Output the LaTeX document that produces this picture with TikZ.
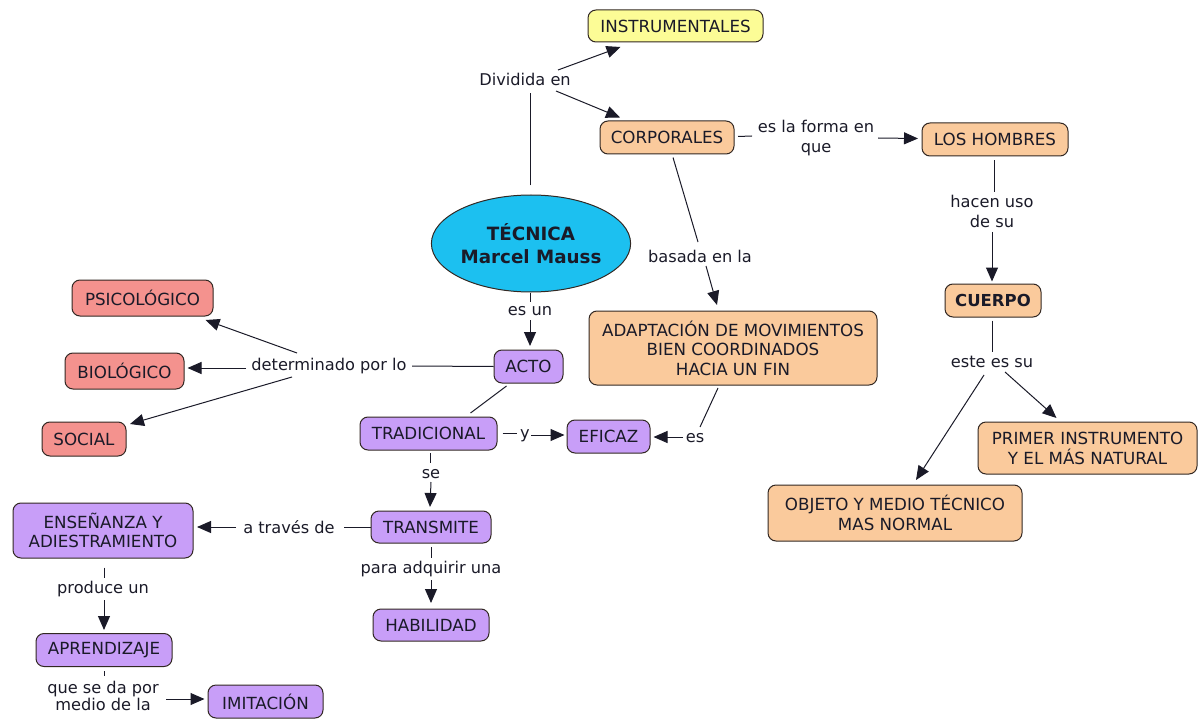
\documentclass[tikz,border=0pt]{standalone}
\usepackage{fontspec}
\setmainfont{DejaVu Sans}
\usetikzlibrary{arrows.meta,shapes.geometric}

\definecolor{cyellow}{RGB}{252,252,150}
\definecolor{cpeach}{RGB}{250,202,156}
\definecolor{cpink}{RGB}{244,146,142}
\definecolor{cpurple}{RGB}{200,158,248}
\definecolor{cblue}{RGB}{28,192,240}
\definecolor{cedge}{RGB}{50,40,35}
\definecolor{ctext}{RGB}{26,26,40}

\tikzset{
  concept/.style={draw=cedge, line width=1pt, rounded corners=8pt, inner sep=0pt,
    align=center, text=ctext, font=\fontsize{16.7}{19.5}\selectfont},
  yel/.style={concept, fill=cyellow},
  pch/.style={concept, fill=cpeach},
  pnk/.style={concept, fill=cpink},
  prp/.style={concept, fill=cpurple},
  linkword/.style={inner sep=0pt, align=center, text=ctext,
    font=\fontsize{16.2}{19.5}\selectfont},
  conn/.style={draw=ctext, line width=1pt},
  arr/.style={conn, -{Triangle[length=14pt,width=12pt]}},
}

\begin{document}
\begin{tikzpicture}[x=1pt,y=-1pt]
\useasboundingbox (0,0) rectangle (1198,719);

% ---------- concepts ----------
\node[ellipse, draw=cedge, line width=1pt, fill=cblue, minimum width=186, minimum height=97,
      inner sep=0pt, align=center, text=ctext, font=\fontsize{18.3}{23}\selectfont\bfseries]
      (tec) at (531,243.5) {TÉCNICA\\Marcel Mauss};

\node[yel, minimum width=175, minimum height=32] (instr) at (675.5,26) {INSTRUMENTALES};
\node[pch, minimum width=134, minimum height=33] (corp) at (667,137.5) {CORPORALES};
\node[pch, minimum width=146, minimum height=33] (hombres) at (995,139.5) {LOS HOMBRES};
\node[pch, minimum width=96, minimum height=33, font=\fontsize{16.5}{19.5}\selectfont\bfseries] (cuerpo) at (993,300.5) {CUERPO};
\node[pch, minimum width=219, minimum height=52, font=\fontsize{16.7}{20}\selectfont] (primer) at (1087.5,448) {PRIMER INSTRUMENTO\\Y EL MÁS NATURAL};
\node[pch, minimum width=254, minimum height=56, font=\fontsize{16.7}{20}\selectfont] (objeto) at (895,513) {OBJETO Y MEDIO TÉCNICO\\MAS NORMAL};
\node[pch, minimum width=288, minimum height=74] (adapt) at (733,348) {ADAPTACIÓN DE MOVIMIENTOS\\BIEN COORDINADOS\\HACIA UN FIN};

\node[prp, minimum width=69, minimum height=33] (acto) at (528.5,366.5) {ACTO};
\node[prp, minimum width=137, minimum height=33] (trad) at (428.5,433.5) {TRADICIONAL};
\node[prp, minimum width=83, minimum height=33] (eficaz) at (608.5,436.5) {EFICAZ};
\node[prp, minimum width=120, minimum height=32] (transm) at (431,527) {TRANSMITE};
\node[prp, minimum width=116, minimum height=32] (habil) at (431,625) {HABILIDAD};
\node[prp, minimum width=180, minimum height=55, font=\fontsize{16.7}{18.5}\selectfont] (ensen) at (103,530.5) {ENSEÑANZA Y\\ADIESTRAMIENTO};
\node[prp, minimum width=136, minimum height=33] (aprend) at (104,650) {APRENDIZAJE};
\node[prp, minimum width=115, minimum height=33] (imit) at (265.5,701.5) {IMITACIÓN};

\node[pnk, minimum width=141, minimum height=36] (psico) at (142.5,298) {PSICOLÓGICO};
\node[pnk, minimum width=119, minimum height=36] (bio) at (124.5,371) {BIOLÓGICO};
\node[pnk, minimum width=84, minimum height=34] (social) at (84,439) {SOCIAL};

% ---------- linking phrases ----------
\node[linkword] (div) at (525,79) {Dividida en};
\node[linkword, font=\fontsize{16.2}{20}\selectfont] (forma) at (816,138) {es la forma en\\que};
\node[linkword, font=\fontsize{16.2}{20}\selectfont] (hacen) at (992,211) {hacen uso\\de su};
\node[linkword] (este) at (992,362) {este es su};
\node[linkword] (basada) at (700,256) {basada en la};
\node[linkword] (esun) at (530,311) {es un};
\node[linkword] (det) at (329,366) {determinado por lo};
\node[linkword] (y) at (525,436) {y};
\node[linkword] (es) at (695,438) {es};
\node[linkword] (se) at (431,474) {se};
\node[linkword] (traves) at (289,527) {a través de};
\node[linkword] (para) at (431,569) {para adquirir una};
\node[linkword] (produce) at (103,589) {produce un};
\node[linkword, font=\fontsize{16.2}{17}\selectfont] (quese) at (103,696) {que se da por\\medio de la};

% ---------- connectors ----------
% TÉCNICA -> Dividida en -> INSTRUMENTALES / CORPORALES
\draw[conn] ([shift={(-1,-58)}]tec.center) -- ([shift={(5,14)}]div.center);
\draw[arr] ([shift={(33,-9)}]div.center) -- ([shift={(-55,21)}]instr.center);
\draw[arr] ([shift={(31,12)}]div.center) -- ([shift={(-47,-20)}]corp.center);

% CORPORALES -> es la forma en que -> LOS HOMBRES
\draw[conn] ([shift={(71,-1)}]corp.center) -- ([shift={(-64,-2)}]forma.center);
\draw[arr] ([shift={(62,0)}]forma.center) -- ([shift={(-77,-1)}]hombres.center);

% LOS HOMBRES -> hacen uso de su -> CUERPO
\draw[conn] ([shift={(-1,21)}]hombres.center) -- ([shift={(2,-19)}]hacen.center);
\draw[arr] ([shift={(0,21)}]hacen.center) -- ([shift={(-1,-19)}]cuerpo.center);

% CUERPO -> este es su -> OBJETO / PRIMER INSTRUMENTO
\draw[conn] ([shift={(-1,20)}]cuerpo.center) -- ([shift={(0,-10)}]este.center);
\draw[arr] ([shift={(-8,13)}]este.center) -- ([shift={(21,-33)}]objeto.center);
\draw[arr] ([shift={(13,10)}]este.center) -- ([shift={(-31,-30)}]primer.center);

% CORPORALES -> basada en la -> ADAPTACIÓN
\draw[conn] ([shift={(6,20)}]corp.center) -- ([shift={(-2,-14)}]basada.center);
\draw[arr] ([shift={(6,10)}]basada.center) -- ([shift={(-16,-43)}]adapt.center);

% TÉCNICA -> es un -> ACTO
\draw[conn] ([shift={(-1,49)}]tec.center) -- ([shift={(0,-9)}]esun.center);
\draw[arr] ([shift={(0,9)}]esun.center) -- ([shift={(1.5,-20.5)}]acto.center);

% ACTO -> determinado por lo -> PSICOLÓGICO / BIOLÓGICO / SOCIAL
\draw[conn] (acto.west) -- ([shift={(83,0)}]det.center);
\draw[arr] ([shift={(-32,-13)}]det.center) -- ([shift={(63,22)}]psico.center);
\draw[arr] ([shift={(-83,2)}]det.center) -- ([shift={(63,-3)}]bio.center);
\draw[arr] ([shift={(-37,11)}]det.center) -- ([shift={(46,-15)}]social.center);

% ACTO -- TRADICIONAL -> y -> EFICAZ
\draw[conn] ([shift={(-22,19.5)}]acto.center) -- ([shift={(42,-20.5)}]trad.center);
\draw[conn] ([shift={(74,0)}]trad.center) -- ([shift={(-8,-2.5)}]y.center);
\draw[arr] ([shift={(6,-1)}]y.center) -- ([shift={(-44,-1.5)}]eficaz.center);

% ADAPTACIÓN -> es -> EFICAZ
\draw[conn] ([shift={(-15,40)}]adapt.center) -- ([shift={(5,-11)}]es.center);
\draw[arr] ([shift={(-12,-1)}]es.center) -- ([shift={(45,0.5)}]eficaz.center);

% TRADICIONAL -> se -> TRANSMITE
\draw[conn] ([shift={(1.5,19.5)}]trad.center) -- ([shift={(-1,-11)}]se.center);
\draw[arr] ([shift={(0,8)}]se.center) -- ([shift={(-1,-20)}]transm.center);

% TRANSMITE -> a través de -> ENSEÑANZA Y ADIESTRAMIENTO
\draw[conn] (transm.west) -- ([shift={(55,0)}]traves.center);
\draw[arr] ([shift={(-53,0)}]traves.center) -- ([shift={(94,-3.5)}]ensen.center);

% TRANSMITE -> para adquirir una -> HABILIDAD
\draw[conn] ([shift={(0,20)}]transm.center) -- ([shift={(0,-11)}]para.center);
\draw[arr] ([shift={(0,11)}]para.center) -- ([shift={(0,-22)}]habil.center);

% ENSEÑANZA -> produce un -> APRENDIZAJE
\draw[conn] ([shift={(1,37)}]ensen.center) -- ([shift={(1,-11)}]produce.center);
\draw[arr] ([shift={(1,11)}]produce.center) -- ([shift={(0,-20)}]aprend.center);

% APRENDIZAJE -> que se da por medio de la -> IMITACIÓN
\draw[conn] ([shift={(0,21)}]aprend.center) -- ([shift={(1,-20)}]quese.center);
\draw[arr] ([shift={(63,3)}]quese.center) -- ([shift={(-61,-2.5)}]imit.center);
\end{tikzpicture}
\end{document}
